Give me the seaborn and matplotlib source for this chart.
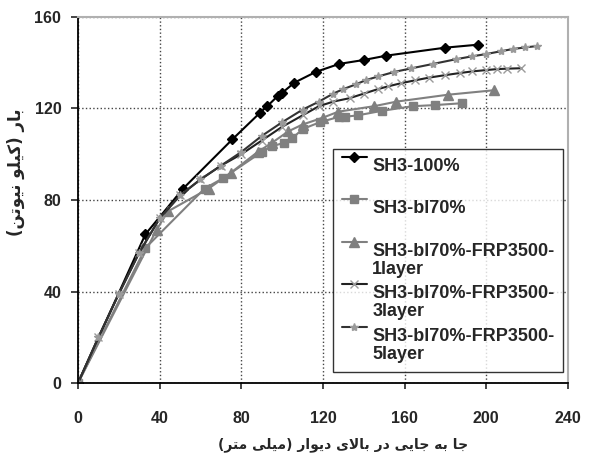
import numpy as np
import matplotlib
matplotlib.use('Agg')
import matplotlib.pyplot as plt
from matplotlib.legend_handler import HandlerLine2D
import seaborn as sns

# load (kN) vs top displacement (mm)
x_100 = [0, 33, 51.5, 75.6, 89, 92.7, 98, 99.7, 106, 116.5, 128, 140, 151, 180, 196]
y_100 = [0, 65, 85, 106.5, 118, 121, 125.6, 126.6, 131.3, 136, 139.5, 141.2, 143.1, 146.6, 147.9]

x_bl70 = [0, 33, 62, 71, 90, 95, 101, 105, 110, 118.5, 128, 131, 137, 149, 164, 175, 188]
y_bl70 = [0, 59, 85, 89.5, 101, 103.5, 105, 107, 111, 114, 116.4, 116.4, 117, 119, 121, 121.5, 122.3]

x_1l = [0, 38.5, 44, 64, 75, 88, 95, 103, 110, 120, 127.5, 145, 156, 181, 204]
y_1l = [0, 67, 75, 85, 92, 101, 105, 110, 113, 116, 118.6, 121, 123, 126, 128]

x_3l = [0, 10, 20, 30, 40, 50, 60, 70, 80, 90, 100, 110, 118, 125, 133, 140, 147, 152,
        158, 165, 172, 180, 187, 193, 200, 205, 210, 217]
y_3l = [0, 20, 39, 57, 72, 82, 89, 95, 100, 106, 112, 117, 121, 123, 124.5, 126.5, 128.5,
        129.7, 131, 132.3, 133.5, 134.6, 135.5, 136.2, 136.8, 137.2, 137.4, 137.6]

x_5l = [0, 10, 20, 30, 40, 50, 60, 70, 80, 90, 100, 110, 118, 125, 130, 136, 141, 147,
        155, 163, 174, 185, 193, 200, 207, 213, 219, 225]
y_5l = [0, 20, 39, 57, 72, 82, 89, 95, 101, 108, 114, 119.5, 123, 126.5, 128.5, 130.5,
        132.4, 134, 136, 137.5, 139.5, 141.5, 142.8, 143.8, 145, 146, 146.7, 147.3]

labels = ['SH3-100%', 'SH3-bl70%', 'SH3-bl70%-FRP3500-\n1layer',
          'SH3-bl70%-FRP3500-\n3layer', 'SH3-bl70%-FRP3500-\n5layer']
xticks = [0, 40, 80, 120, 160, 200, 240]
yticks = [0, 40, 80, 120, 160]
xlabel = 'جا به جایی در بالای دیوار (میلی متر)'
ylabel = 'بار (کیلو نیوتن)'


def shape_fa(text):
    # minimal persian shaping + reversal, matplotlib has no bidi
    forms = {
        'ا': ('\uFE8D', '\uFE8E'),
        'ب': ('\uFE8F', '\uFE90', '\uFE91', '\uFE92'),
        'ت': ('\uFE95', '\uFE96', '\uFE97', '\uFE98'),
        'ج': ('\uFE9D', '\uFE9E', '\uFE9F', '\uFEA0'),
        'د': ('\uFEA9', '\uFEAA'),
        'ر': ('\uFEAD', '\uFEAE'),
        'ل': ('\uFEDD', '\uFEDE', '\uFEDF', '\uFEE0'),
        'م': ('\uFEE1', '\uFEE2', '\uFEE3', '\uFEE4'),
        'ن': ('\uFEE5', '\uFEE6', '\uFEE7', '\uFEE8'),
        'ه': ('\uFEE9', '\uFEEA', '\uFEEB', '\uFEEC'),
        'و': ('\uFEED', '\uFEEE'),
        'ی': ('\uFBFC', '\uFBFD', '\uFBFE', '\uFBFF'),
        'ک': ('\uFB8E', '\uFB8F', '\uFB90', '\uFB91'),
    }
    out = []
    i = 0
    while i < len(text):
        c = text[i]
        if c not in forms:
            out.append(c)
            i += 1
            continue
        prev = text[i - 1] if i > 0 else ''
        jp = prev in forms and len(forms[prev]) == 4
        if c == 'ل' and i + 1 < len(text) and text[i + 1] == 'ا':
            out.append('\uFEFC' if jp else '\uFEFB')
            i += 2
            continue
        nxt = text[i + 1] if i + 1 < len(text) else ''
        jn = len(forms[c]) == 4 and nxt in forms
        f = forms[c]
        if jp and jn:
            out.append(f[3])
        elif jp:
            out.append(f[1])
        elif jn:
            out.append(f[2])
        else:
            out.append(f[0])
        i += 1
    s = ''.join(reversed(out))
    return s.translate(str.maketrans('()', ')('))


class TopLineHandler(HandlerLine2D):
    # put the legend line next to the first text line instead of the middle
    def create_artists(self, legend, orig_handle, xdescent, ydescent, width,
                       height, fontsize, trans):
        arts = super().create_artists(legend, orig_handle, xdescent, ydescent,
                                      width, height, fontsize, trans)
        for a in arts:
            a.set_ydata(np.full(len(a.get_xdata()), 1.38 * fontsize))
        return arts


sns.set_style("white")
plt.rcParams['font.family'] = ['Liberation Sans', 'DejaVu Sans']

fig = plt.figure(figsize=(5.91, 4.53), dpi=100)
ax = fig.add_axes([0.132, 0.1545, 0.829, 0.808])

series = [
    (x_100, y_100, 'D', 'black', 'black', 5),
    (x_bl70, y_bl70, 's', '#808080', '#808080', 6),
    (x_1l, y_1l, '^', '#808080', '#808080', 7),
    (x_3l, y_3l, 'x', '#222222', '#9a9a9a', 6),
    (x_5l, y_5l, '*', '#333333', '#9a9a9a', 6),
]
for (xs, ys, m, lc, mc, ms), lab in zip(series, labels):
    sns.lineplot(x=xs, y=ys, ax=ax, estimator=None, sort=False, color=lc,
                 marker=m, markersize=ms, markerfacecolor=mc, markeredgecolor=mc,
                 markeredgewidth=1.0, linewidth=1.5, label=lab)

ax.set_xlim(0, 240)
ax.set_ylim(0, 160)
ax.set_xticks(xticks)
ax.set_yticks(yticks)
ax.grid(True, linestyle=':', color='#444444', linewidth=1.0)
ax.set_axisbelow(True)
for s in ['top', 'right']:
    ax.spines[s].set_color('#b0b0b0')
    ax.spines[s].set_linewidth(1.5)
for s in ['left', 'bottom']:
    ax.spines[s].set_color('black')
    ax.spines[s].set_linewidth(1.3)
ax.tick_params(axis='x', direction='out', length=4, width=1.2, pad=16,
               labelsize=11.5, bottom=True)
ax.tick_params(axis='y', direction='out', length=5, width=1.2, pad=7,
               labelsize=11.5, left=True)
for t in ax.get_xticklabels() + ax.get_yticklabels():
    t.set_fontweight('bold')

ax.set_xlabel(shape_fa(xlabel), fontsize=10, family='DejaVu Sans', fontweight='bold')
ax.set_ylabel(shape_fa(ylabel), fontsize=12, family='DejaVu Sans', fontweight='bold')
ax.xaxis.set_label_coords(0.54, -0.148)
ax.yaxis.set_label_coords(-0.108, 0.577)

handles, _ = ax.get_legend_handles_labels()
leg_labels = [l if '\n' in l else l + '\n ' for l in labels]
leg = ax.legend(handles, leg_labels, loc='lower left', bbox_to_anchor=(0.52, 0.03),
                borderaxespad=0, frameon=True, fancybox=False, edgecolor='black',
                labelspacing=0.4, handlelength=1.4, handletextpad=0.28, borderpad=0.5,
                handler_map={h: TopLineHandler() for h in handles},
                prop={'weight': 'bold', 'size': 13})
leg.get_frame().set_linewidth(1.0)
for t in leg.get_texts():
    t.set_linespacing(1.1)

fig.savefig('out.png', dpi=100)
